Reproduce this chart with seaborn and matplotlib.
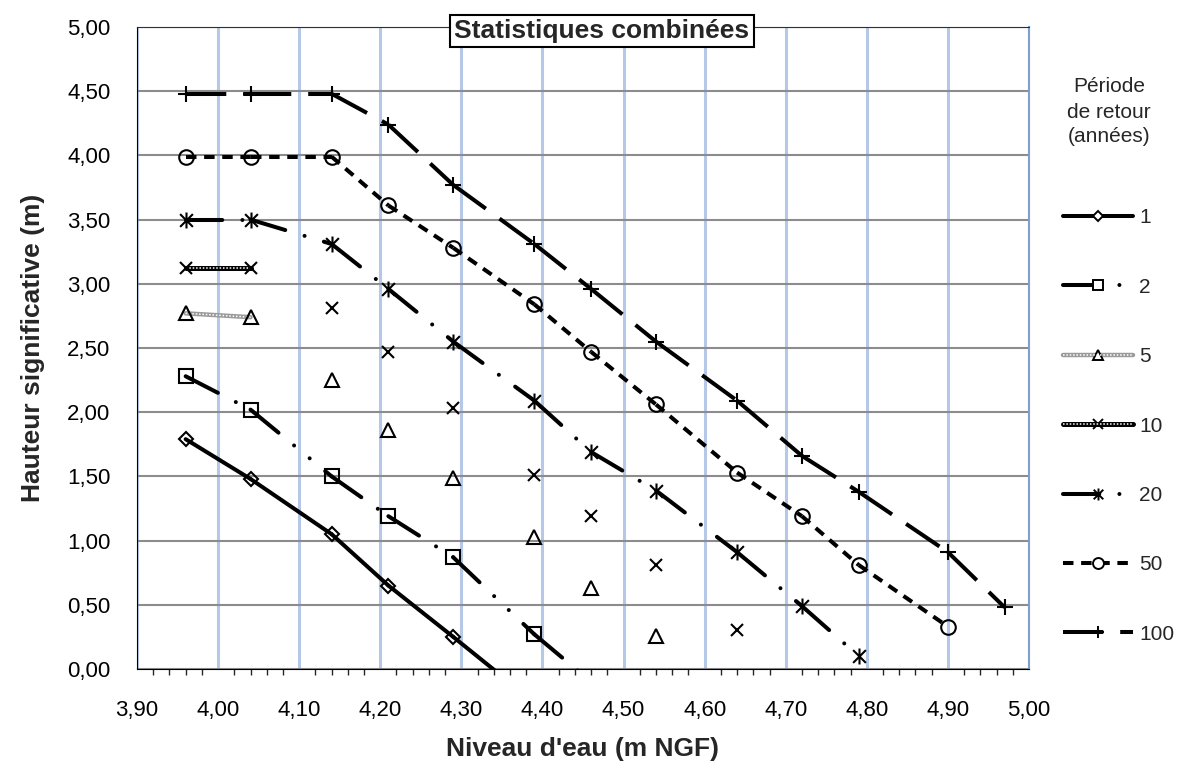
import matplotlib
matplotlib.use('Agg')
import matplotlib.pyplot as plt
import numpy as np
import pandas as pd
import seaborn as sns
from matplotlib.lines import Line2D
from matplotlib.path import Path
from matplotlib.ticker import FuncFormatter, MultipleLocator

# niveaux d'eau communs (m NGF)
niveau = [3.96, 4.04, 4.14, 4.21, 4.29, 4.39, 4.46, 4.54, 4.64, 4.72, 4.79, 4.90, 4.97]

# hauteur significative (m) par période de retour
h_1 = [1.79, 1.48, 1.05, 0.65, 0.25, -0.26]
h_2 = [2.28, 2.02, 1.50, 1.19, 0.87, 0.27, -0.10]
h_5 = [2.77, 2.74, 2.25, 1.86, 1.49, 1.03, 0.63, 0.26]
h_10 = [3.12, 3.12, 2.81, 2.47, 2.03, 1.51, 1.19, 0.81, 0.30]
h_20 = [3.50, 3.50, 3.31, 2.96, 2.55, 2.09, 1.69, 1.39, 0.91, 0.49, 0.10]
h_50 = [3.99, 3.99, 3.99, 3.61, 3.28, 2.84, 2.47, 2.06, 1.53, 1.19, 0.81, 0.33]
h_100 = [4.48, 4.48, 4.48, 4.24, 3.77, 3.31, 2.96, 2.55, 2.09, 1.66, 1.38, 0.91, 0.48]

periodes = ['1', '2', '5', '10', '20', '50', '100']
# nombre de points reliés par une ligne (5 et 10 ans : seulement les 2 premiers)
n_lies = [6, 7, 2, 2, 11, 12, 13]

series = [h_1, h_2, h_5, h_10, h_20, h_50, h_100]

sns.set_style('white')
plt.rcParams['font.family'] = ['Liberation Sans', 'DejaVu Sans']

star = Path([(-1, -1), (1, 1), (-1, 1), (1, -1), (0, -1.25), (0, 1.25)],
            [Path.MOVETO, Path.LINETO, Path.MOVETO, Path.LINETO, Path.MOVETO, Path.LINETO])

LW = 2.9
styles = [
    dict(marker='D', ms=7, ls='-', color='k', cap='round'),
    dict(marker='s', ms=10, ls=(0, (9, 5, 0.01, 5, 0.01, 5)), color='k', cap='round'),
    dict(marker='^', ms=10, ls='-', color='#9a9a9a', cap='butt', texture=True, lw=3.2),
    dict(marker='x', ms=9, ls='-', color='k', cap='butt', texture=True, lw=3.6),
    dict(marker=star, ms=11.5, ls=(0, (9, 5, 0.01, 5)), color='k', cap='round'),
    dict(marker='o', ms=10.5, ls=(0, (2.6, 1.9)), color='k', cap='butt'),
    dict(marker='+', ms=11.5, ls=(0, (10, 4.2)), color='k', cap='butt'),
]

fig = plt.figure(figsize=(11.92, 7.72), dpi=100)
ax = fig.add_axes([137 / 1192, 1 - 669 / 772, 892 / 1192, 642 / 772])

for h, n, st in zip(series, n_lies, styles):
    xs = niveau[:len(h)]
    lw = st.get('lw', LW)
    # Excel relance le motif de tirets à chaque point : on trace segment par segment
    for i in range(n - 1):
        seg = pd.DataFrame({'x': xs[i:i + 2], 'y': h[i:i + 2]})
        sns.lineplot(data=seg, x='x', y='y', ax=ax, color=st['color'], lw=lw,
                     linestyle=st['ls'], dash_capstyle=st['cap'], solid_capstyle='round',
                     sort=False, legend=False, errorbar=None)
        if st.get('texture'):
            sns.lineplot(data=seg, x='x', y='y', ax=ax, color='white', lw=1.1,
                         linestyle=(0, (1, 1.2)), sort=False, legend=False, errorbar=None)
    pts = pd.DataFrame({'x': xs, 'y': h})
    sns.lineplot(data=pts, x='x', y='y', ax=ax, linestyle='none', marker=st['marker'],
                 ms=st['ms'], mfc='none', mec='k', mew=1.5, sort=False, legend=False,
                 errorbar=None)

ax.set_xlim(3.90, 5.00)
ax.set_ylim(0, 5.00)
ax.xaxis.set_major_locator(MultipleLocator(0.1))
ax.xaxis.set_minor_locator(MultipleLocator(0.02))
ax.yaxis.set_major_locator(MultipleLocator(0.5))
fmt = FuncFormatter(lambda v, p: f'{v:.2f}'.replace('.', ','))
ax.xaxis.set_major_formatter(fmt)
ax.yaxis.set_major_formatter(fmt)
ax.tick_params(axis='both', which='major', direction='out', length=5, width=1,
               colors='k', labelsize=16)
ax.tick_params(axis='x', which='major', pad=17)
ax.tick_params(axis='y', which='major', pad=14)
ax.tick_params(axis='x', which='minor', direction='out', length=4, width=1, bottom=True)

ax.set_axisbelow(True)
ax.grid(axis='y', which='major', color='#8c8c8c', lw=1.5)
ax.grid(axis='x', which='major', color='#b5c8e8', lw=2.2)

ax.spines['left'].set_color('k')
ax.spines['bottom'].set_color('k')
ax.spines['top'].set_color('#303030')
ax.spines['right'].set_color('#7f9fd0')
ax.spines['right'].set_linewidth(1.5)

ax.set_xlabel("Niveau d'eau (m NGF)", fontsize=19, fontweight='bold', labelpad=12)
ax.set_ylabel('Hauteur significative (m)', fontsize=19, fontweight='bold', labelpad=16)

fig.text(602 / 1192, 1 - 31 / 772, 'Statistiques combinées', ha='center', va='center',
         fontsize=19, fontweight='bold',
         bbox=dict(facecolor='white', edgecolor='black', boxstyle='square,pad=0.17', lw=1.5))

# légende
handles = []
for st in styles:
    lw = st.get('lw', LW)
    base = Line2D([], [], color=st['color'], lw=lw, linestyle=st['ls'],
                  dash_capstyle=st['cap'], marker=st['marker'], ms=st['ms'] * 0.75,
                  mfc='white', mec='k', mew=1.4)
    if st.get('texture'):
        handles.append((base, Line2D([], [], color='white', lw=1.1, linestyle=(0, (1, 1.2)))))
    else:
        handles.append(base)

fig.text(1109 / 1192, 1 - 112 / 772, 'Période\nde retour\n(années)', ha='center', va='center',
         fontsize=15, multialignment='center', linespacing=1.4)
fig.legend(handles, periodes, loc='center left', bbox_to_anchor=(1063 / 1192, 1 - 426 / 772),
           frameon=False, fontsize=15, handlelength=3.35, handletextpad=0.3,
           labelspacing=2.42, borderpad=0, borderaxespad=0)

fig.savefig('out.png', dpi=100)
